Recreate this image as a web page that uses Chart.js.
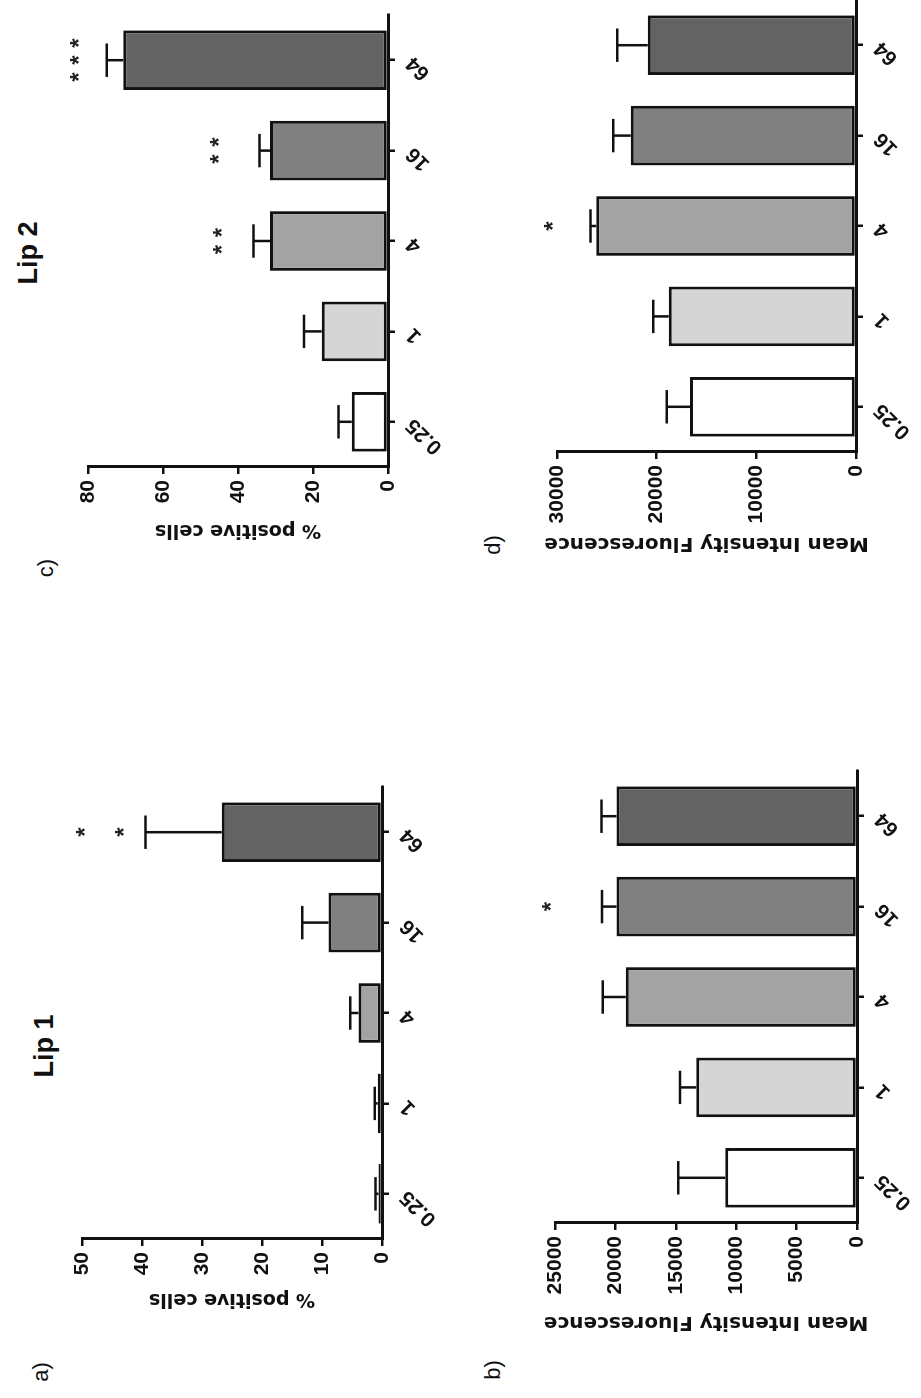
<!DOCTYPE html>
<html>
<head>
<meta charset="utf-8">
<script src="https://cdn.jsdelivr.net/npm/chart.js@4.4.0/dist/chart.umd.min.js"></script>
<style>
  html, body { margin: 0; padding: 0; background: #fff; }
  body { width: 921px; height: 1398px; overflow: hidden; position: relative; }
  /* the figure is drawn upright and then turned a quarter turn to the left */
  #fig {
    position: absolute; left: 0; top: 0;
    width: 1398px; height: 921px;
    transform-origin: 0 0;
    transform: translate(0px, 1398px) rotate(-90deg);
  }
  #fig canvas { position: absolute; }
  .lbl {
    position: absolute; transform: translate(-50%, -50%);
    font-family: "Liberation Sans", Arial, sans-serif;
    white-space: nowrap; line-height: 1; color: #111;
  }
  .lip { font-size: 27px; font-weight: bold; }
  .panel { font-size: 22px; }
</style>
</head>
<body>
<div id="fig">
  <div class="lbl panel" style="left:26px; top:41px;">a)</div>
  <div class="lbl panel" style="left:28px; top:493px;">b)</div>
  <div class="lbl panel" style="left:830px; top:46px;">c)</div>
  <div class="lbl panel" style="left:853px; top:493px;">d)</div>
  <div class="lbl lip" style="left:352px; top:44px;">Lip 1</div>
  <div class="lbl lip" style="left:1145px; top:28px;">Lip 2</div>
</div>

<script>
// ? Data
// ? ==================================
const categories = ["0.25", "1", "4", "16", "64"];

const posLip1 = [0.6, 0.7, 3.9, 8.9, 26.7];
const posLip1Err = [0.5, 0.5, 1.4, 4.4, 12.7];
const posLip1Ticks = [0, 10, 20, 30, 40, 50];
const posLip1Stars = [["64", 44, "*"], ["64", 50.5, "*"]];

const mfiLip1 = [10900, 13300, 19150, 19900, 19900];
const mfiLip1Err = [3900, 1350, 1900, 1200, 1250];
const mfiLip1Ticks = [0, 5000, 10000, 15000, 20000, 25000];
const mfiLip1Stars = [["16", 25800, "*"]];

const posLip2 = [9.7, 17.7, 31.5, 31.5, 70.6];
const posLip2Err = [3.5, 4.7, 4.4, 2.8, 4.4];
const posLip2Ticks = [0, 20, 40, 60, 80];
const posLip2Stars = [["4", 45.7, "**"], ["16", 46.6, "**"], ["64", 84, "***"]];

const mfiLip2 = [16650, 18800, 26050, 22600, 20900];
const mfiLip2Err = [2350, 1550, 600, 1750, 3050];
const mfiLip2Ticks = [0, 10000, 20000, 30000];
const mfiLip2Stars = [["4", 31000, "*"]];

// ? Styles
// ? ==================================
const fills = ["#ffffff", "#d5d5d5", "#a3a3a3", "#808080", "#636363"];
const INK = "#111";
const PAD_TOP = 40;
const PAD_RIGHT = 20;
const X_AXIS_H = 70;
const STAR_SIZE = 24;
const STAR_GAP = 17;

// & Error bars + significance stars
// & ============================
const errorBars = {
  id: "errorBars",
  afterDatasetsDraw(chart, args, opts) {
    const ctx = chart.ctx;
    const yScale = chart.scales.y;
    const xScale = chart.scales.x;
    const values = chart.data.datasets[0].data;
    const meta = chart.getDatasetMeta(0);

    ctx.save();
    ctx.strokeStyle = INK;
    ctx.lineWidth = 2.5;
    meta.data.forEach((bar, i) => {
      const top = yScale.getPixelForValue(values[i] + opts.errs[i]);
      const half = bar.width * 0.28;
      ctx.beginPath();
      ctx.moveTo(bar.x, bar.y);
      ctx.lineTo(bar.x, top);
      ctx.moveTo(bar.x - half, top);
      ctx.lineTo(bar.x + half, top);
      ctx.stroke();
    });

    ctx.fillStyle = "#222";
    ctx.font = "bold " + STAR_SIZE + 'px "Liberation Sans", Arial, sans-serif';
    ctx.textAlign = "center";
    ctx.textBaseline = "alphabetic";
    opts.stars.forEach(([cat, at, mark]) => {
      const x = xScale.getPixelForValue(chart.data.labels.indexOf(cat));
      const y = yScale.getPixelForValue(at) + STAR_SIZE * 0.57;
      const n = mark.length;
      for (let k = 0; k < n; k++) {
        ctx.fillText("*", x + (k - (n - 1) / 2) * STAR_GAP, y);
      }
    });
    ctx.restore();
  },
};

// * Panels
// * ============================
const panels = [
  { vals: posLip1, errs: posLip1Err, ticks: posLip1Ticks, stars: posLip1Stars,
    title: "% positive cells", titleSize: 19,
    left: 159, right: 611, top: 82, bottom: 382, axisW: 71 },
  { vals: mfiLip1, errs: mfiLip1Err, ticks: mfiLip1Ticks, stars: mfiLip1Stars,
    title: "Mean Intensity Fluorescence", titleSize: 20,
    left: 175, right: 627, top: 555, bottom: 857, axisW: 111 },
  { vals: posLip2, errs: posLip2Err, ticks: posLip2Ticks, stars: posLip2Stars,
    title: "% positive cells", titleSize: 19,
    left: 931, right: 1383, top: 88, bottom: 388, axisW: 74 },
  { vals: mfiLip2, errs: mfiLip2Err, ticks: mfiLip2Ticks, stars: mfiLip2Stars,
    title: "Mean Intensity Fluorescence", titleSize: 20,
    left: 946, right: 1398, top: 557, bottom: 856, axisW: 103 },
];

const fig = document.getElementById("fig");
const tickFont = { family: '"Liberation Sans", Arial, sans-serif', size: 21, weight: "bold" };

panels.forEach((p) => {
  const canvas = document.createElement("canvas");
  const w = p.axisW + (p.right - p.left) + PAD_RIGHT;
  const h = PAD_TOP + (p.bottom - p.top) + X_AXIS_H;
  canvas.width = w;
  canvas.height = h;
  canvas.style.width = w + "px";
  canvas.style.height = h + "px";
  canvas.style.left = (p.left - p.axisW) + "px";
  canvas.style.top = (p.top - PAD_TOP) + "px";
  fig.appendChild(canvas);

  new Chart(canvas.getContext("2d"), {
    type: "bar",
    data: {
      labels: categories,
      datasets: [{
        data: p.vals,
        backgroundColor: fills,
        borderColor: INK,
        borderWidth: 3,
        borderSkipped: false,
        categoryPercentage: 1,
        barPercentage: 0.66,
      }],
    },
    options: {
      responsive: false,
      animation: false,
      layout: { padding: { top: PAD_TOP, right: PAD_RIGHT, left: 0, bottom: 0 } },
      plugins: {
        legend: { display: false },
        tooltip: { enabled: false },
        errorBars: { errs: p.errs, stars: p.stars },
      },
      scales: {
        x: {
          offset: true,
          afterFit: (scale) => { scale.height = X_AXIS_H; },
          grid: { offset: false, drawOnChartArea: false, drawTicks: true,
                  tickLength: 7, color: INK, lineWidth: 2.5 },
          border: { display: true, color: INK, width: 3 },
          ticks: { font: tickFont, color: INK, minRotation: 45, maxRotation: 45,
                   autoSkip: false, padding: 6 },
        },
        y: {
          min: p.ticks[0],
          max: p.ticks[p.ticks.length - 1],
          afterFit: (scale) => { scale.width = p.axisW; },
          afterBuildTicks: (scale) => { scale.ticks = p.ticks.map((v) => ({ value: v })); },
          grid: { drawOnChartArea: false, drawTicks: true, tickLength: 7,
                  color: INK, lineWidth: 2.5 },
          border: { display: true, color: INK, width: 3 },
          ticks: { font: tickFont, color: INK, padding: 6,
                   callback: (v) => String(v) },
          title: {
            display: true,
            text: p.title,
            color: INK,
            padding: 0,
            font: { family: '"DejaVu Sans", sans-serif', size: p.titleSize, weight: "bold" },
          },
        },
      },
    },
    plugins: [errorBars],
  });
});
</script>
</body>
</html>
